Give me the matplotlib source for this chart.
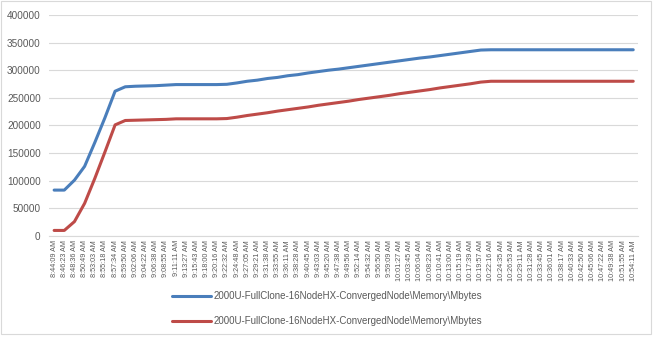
import matplotlib.pyplot as plt
from matplotlib.patches import Rectangle

# sample timestamps (category axis)
times = [
    "8:44:09 AM", "8:46:23 AM", "8:48:36 AM", "8:50:49 AM", "8:53:03 AM", "8:55:18 AM",
    "8:57:34 AM", "8:59:50 AM", "9:02:06 AM", "9:04:22 AM", "9:06:38 AM", "9:08:55 AM",
    "9:11:11 AM", "9:13:27 AM", "9:15:43 AM", "9:18:00 AM", "9:20:16 AM", "9:22:32 AM",
    "9:24:48 AM", "9:27:05 AM", "9:29:21 AM", "9:31:38 AM", "9:33:55 AM", "9:36:11 AM",
    "9:38:28 AM", "9:40:45 AM", "9:43:03 AM", "9:45:20 AM", "9:47:38 AM", "9:49:56 AM",
    "9:52:14 AM", "9:54:32 AM", "9:56:50 AM", "9:59:09 AM", "10:01:27 AM", "10:03:45 AM",
    "10:06:04 AM", "10:08:23 AM", "10:10:41 AM", "10:13:00 AM", "10:15:19 AM", "10:17:39 AM",
    "10:19:57 AM", "10:22:16 AM", "10:24:35 AM", "10:26:53 AM", "10:29:11 AM", "10:31:28 AM",
    "10:33:45 AM", "10:36:01 AM", "10:38:17 AM", "10:40:33 AM", "10:42:50 AM", "10:45:06 AM",
    "10:47:22 AM", "10:49:38 AM", "10:51:55 AM", "10:54:11 AM",
]

# memory, Mbytes
mem_blue = [
    83000, 83000, 101000, 126000, 169000, 214000, 262000, 270000, 271000, 271500,
    272000, 273000, 274000, 274000, 274000, 274000, 274000, 274500, 277000, 280000,
    282000, 285000, 287000, 290000, 292000, 295000, 297500, 300000, 302000, 304500,
    307000, 309500, 312000, 314500, 317000, 319500, 322000, 324000, 326500, 329000,
    331500, 334000, 336500, 337000, 337000, 337000, 337000, 337000, 337000, 337000,
    337000, 337000, 337000, 337000, 337000, 337000, 337000, 337000,
]
mem_red = [
    10000, 10000, 26000, 59000, 104000, 152000, 201000, 209000, 209500, 210000,
    210500, 211000, 212000, 212000, 212000, 212000, 212000, 212500, 215000, 218000,
    220500, 223000, 226000, 228500, 231000, 233500, 236500, 239000, 241500, 244000,
    247000, 249500, 252000, 254500, 257500, 260000, 262500, 265000, 268000, 270500,
    273000, 275500, 278500, 280000, 280000, 280000, 280000, 280000, 280000, 280000,
    280000, 280000, 280000, 280000, 280000, 280000, 280000, 280000,
]
series_name = "2000U-FullClone-16NodeHX-ConvergedNode\\Memory\\Mbytes"

plt.rcParams['font.family'] = ['Liberation Sans', 'DejaVu Sans']

fig = plt.figure(figsize=(6.54, 3.4), dpi=100)
ax = fig.add_axes([0.075, 0.306, 0.901, 0.65])

x = range(len(times))
ax.plot(x, mem_blue, color='#4A7EBB', lw=2.2, label=series_name, solid_capstyle='round')
ax.plot(x, mem_red, color='#BE4B48', lw=2.2, label=series_name, solid_capstyle='round')

ax.set_xlim(-0.5, len(times) - 0.5)
ax.set_ylim(0, 400000)
ax.set_yticks(range(0, 400001, 50000))
ax.set_xticks(list(x))
ax.set_xticklabels(times, rotation=90, fontsize=5.2, color='#595959')
ax.tick_params(axis='y', labelsize=7.2, colors='#595959', length=0, pad=6)
ax.tick_params(axis='x', length=0, pad=3)

ax.grid(axis='y', color='#d9d9d9', lw=0.8)
ax.set_axisbelow(True)
for s in ['top', 'right', 'left']:
    ax.spines[s].set_visible(False)
ax.spines['bottom'].set_color('#d9d9d9')
ax.spines['bottom'].set_linewidth(0.8)

fig.legend(loc='upper center', bbox_to_anchor=(0.5, 0.155), frameon=False,
           fontsize=7, labelcolor='#595959', ncol=1, handlelength=4.0,
           handletextpad=0.3, labelspacing=1.55, borderaxespad=0)

# chart border
fig.patches.append(Rectangle((0.002, 0.018), 0.993, 0.978, transform=fig.transFigure,
                             fill=False, edgecolor='#d9d9d9', lw=0.8))

fig.savefig('out.png', dpi=100)
